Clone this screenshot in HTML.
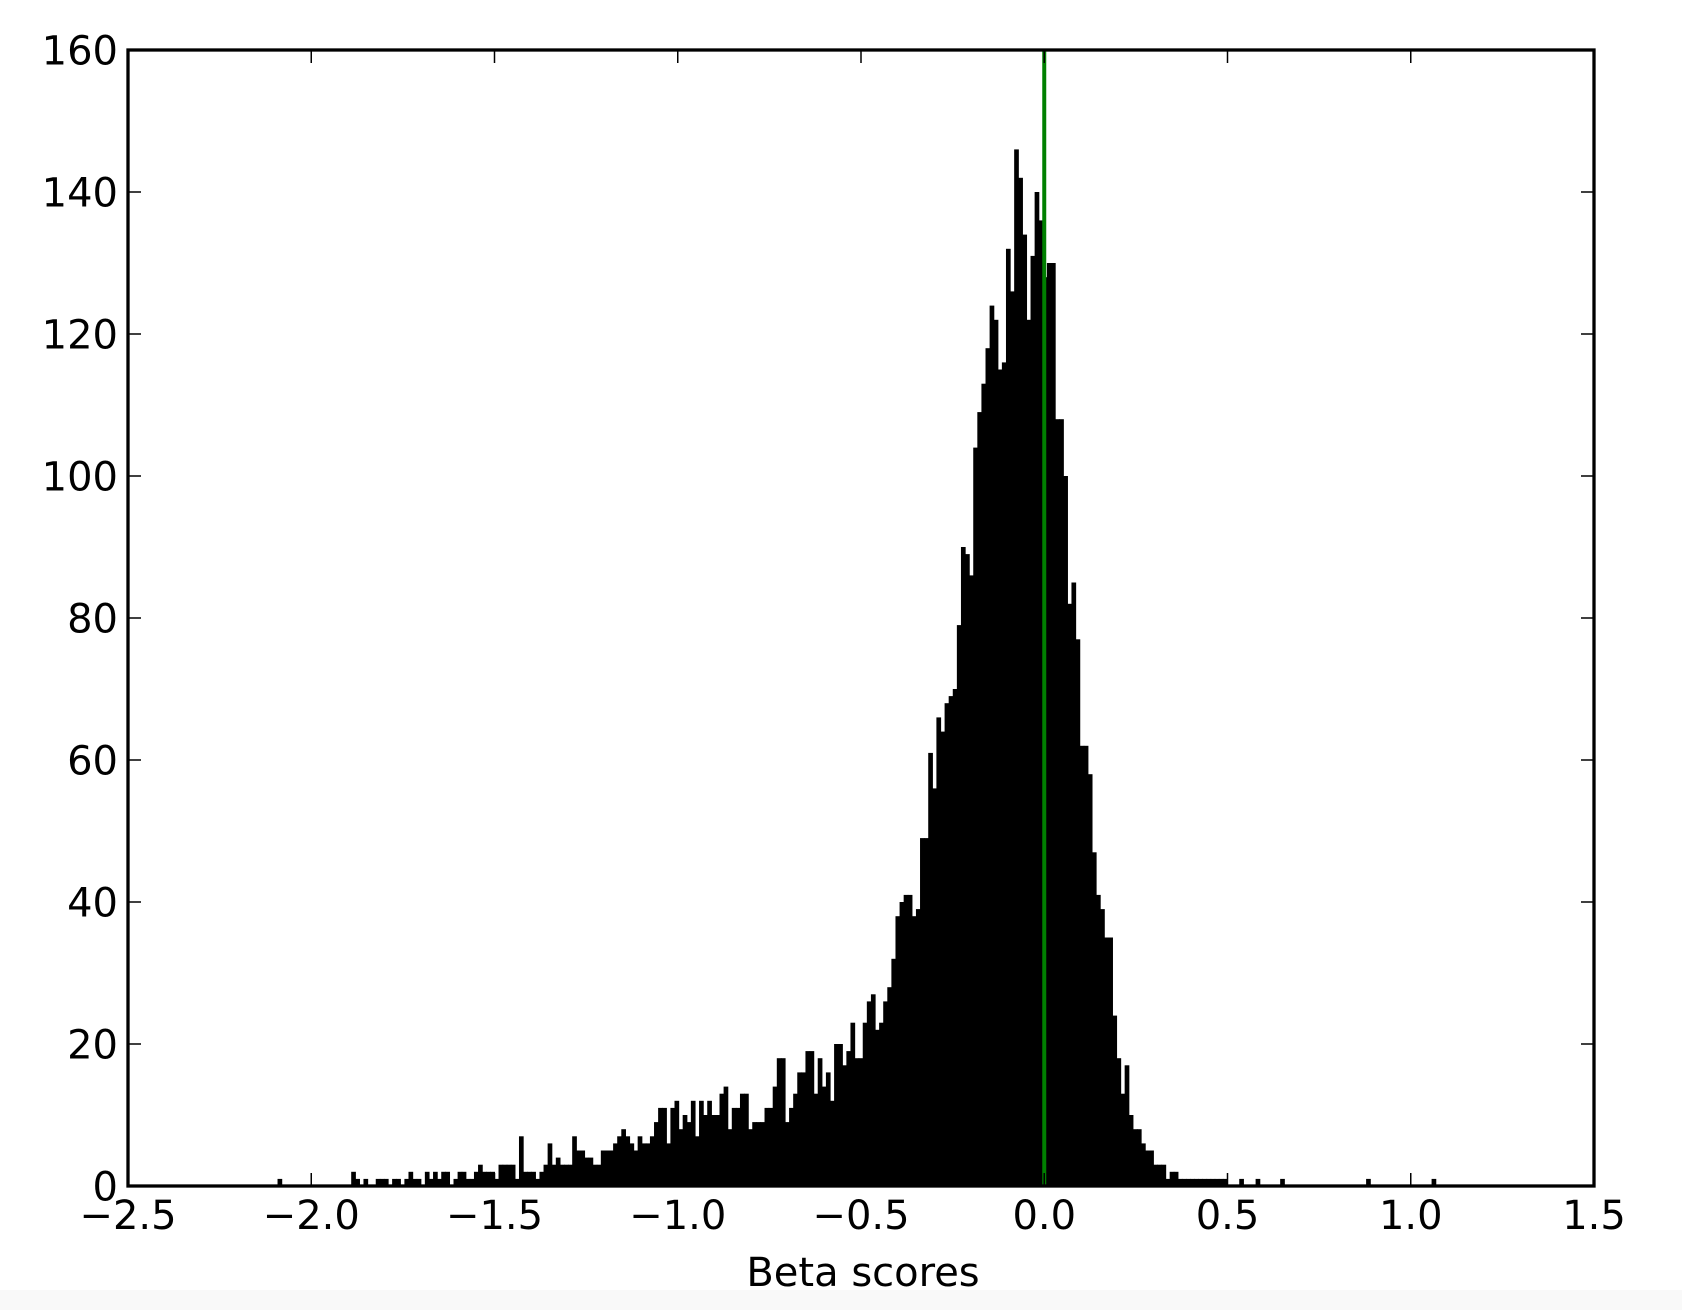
<!DOCTYPE html>
<html><head><meta charset="utf-8"><style>
html,body{margin:0;padding:0;background:#fff;}
svg{display:block;}
text{font-family:"DejaVu Sans","Liberation Sans",sans-serif;fill:#000;}
</style></head>
<body>
<svg id="chart" width="1682" height="1310" viewBox="0 0 1682 1310" xmlns="http://www.w3.org/2000/svg">
<rect x="0" y="1290" width="1682" height="20" fill="#f9f9f9"/>
<g id="bars"></g>
<g id="axes"></g>
<text x="863" y="1286" font-size="40" text-anchor="middle">Beta scores</text>
</svg>
<script>
const binStart = -2.092;
const binEnd = 1.068;
const counts = [
// left tail
1,0,0,0,0,0,0,0,0,0,0,0,0,0,0,0,0,0,2,1,0,1,0,0,1,1,1,0,1,1,0,1,2,1,1,0,2,1,2,1,
// -1.65 .. -0.93
2,2,0,1,2,2,1,1,2,3,2,2,2,1,3,3,3,3,1,7,2,2,2,1,2,3,6,3,4,3,3,3,7,5,5,4,4,3,3,5,5,5,6,7,8,7,6,5,7,6,6,7,9,11,11,6,11,12,8,10,9,12,7,12,10,
// -0.93 .. -0.35
12,10,10,13,14,8,11,11,13,13,8,9,9,9,11,11,14,18,18,9,11,13,16,16,19,19,13,18,14,16,12,20,20,17,19,23,18,18,23,26,27,22,23,26,28,32,38,40,41,41,38,39,
// -0.35 .. -0.25
49,49,61,56,66,64,68,69,70,
// peak
79,90,89,86,104,109,113,118,124,122,115,116,132,126,146,142,134,122,131,140,136,128,130,130,108,108,100,82,85,77,
// right shoulder
62,62,58,47,41,39,35,35,24,18,13,17,10,8,8,6,5,5,3,
// right tail
3,3,1,2,2,1,1,1,1,1,1,1,1,1,1,1,1,0,0,0,1,0,0,0,1,0,0,0,0,0,1,
0,0,0,0,0,0,0,0,0,0,0,0,0,0,0,0,0,0,0,0,1,0,0,0,0,0,0,0,0,0,0,0,0,0,0,0,1
];
const xTicks = [-2.5,-2.0,-1.5,-1.0,-0.5,0.0,0.5,1.0,1.5];
const xTickLabels = ["\u22122.5","\u22122.0","\u22121.5","\u22121.0","\u22120.5","0.0","0.5","1.0","1.5"];
const yTicks = [0,20,40,60,80,100,120,140,160];
const yTickLabels = ["0","20","40","60","80","100","120","140","160"];
const refLine = [0.0];

const L=128,R=1594,T=50,B=1186;
const xMin=-2.5,xMax=1.5,yMin=0,yMax=160;
function xs(v){return L+(v-xMin)/(xMax-xMin)*(R-L);}
function ys(v){return B-(v-yMin)/(yMax-yMin)*(B-T);}
const NS="http://www.w3.org/2000/svg";
const binW=(binEnd-binStart)/counts.length;
const barsG=document.getElementById('bars');
counts.forEach((c,i)=>{
  if(c<=0)return;
  const x0=xs(binStart+i*binW), x1=xs(binStart+(i+1)*binW);
  const r=document.createElementNS(NS,'rect');
  r.setAttribute('x',x0);
  r.setAttribute('y',ys(c));
  r.setAttribute('width',(x1-x0)+0.6);
  r.setAttribute('height',ys(0)-ys(c));
  r.setAttribute('fill','#000');
  
  
  barsG.appendChild(r);
});
const ax=document.getElementById('axes');
refLine.forEach(v=>{
  const l=document.createElementNS(NS,'line');
  l.setAttribute('x1',xs(v));l.setAttribute('x2',xs(v));
  l.setAttribute('y1',T);l.setAttribute('y2',B);
  l.setAttribute('stroke','#008000');l.setAttribute('stroke-width','4');
  
  
  ax.appendChild(l);
});
xTicks.forEach((v,i)=>{
  const x=xs(v);
  [[B,B-13],[T,T+13]].forEach(p=>{
    const t=document.createElementNS(NS,'line');
    t.setAttribute('x1',x);t.setAttribute('x2',x);t.setAttribute('y1',p[0]);t.setAttribute('y2',p[1]);
    t.setAttribute('stroke','#000');t.setAttribute('stroke-width','1.5');
    
    
    ax.appendChild(t);
  });
  const tx=document.createElementNS(NS,'text');
  tx.setAttribute('x',x);tx.setAttribute('y',1229);
  tx.setAttribute('font-size','40');tx.setAttribute('text-anchor','middle');
  tx.textContent=xTickLabels[i];
  
  
  ax.appendChild(tx);
});
yTicks.forEach((v,i)=>{
  const y=ys(v);
  [[L,L+13],[R,R-13]].forEach(p=>{
    const t=document.createElementNS(NS,'line');
    t.setAttribute('x1',p[0]);t.setAttribute('x2',p[1]);t.setAttribute('y1',y);t.setAttribute('y2',y);
    t.setAttribute('stroke','#000');t.setAttribute('stroke-width','1.5');
    
    
    ax.appendChild(t);
  });
  const tx=document.createElementNS(NS,'text');
  tx.setAttribute('x',118);tx.setAttribute('y',y+14.5);
  tx.setAttribute('font-size','40');tx.setAttribute('text-anchor','end');
  tx.textContent=yTickLabels[i];
  
  
  ax.appendChild(tx);
});
const fr=document.createElementNS(NS,'rect');
fr.setAttribute('x',L);fr.setAttribute('y',T);fr.setAttribute('width',R-L);fr.setAttribute('height',B-T);
fr.setAttribute('fill','none');fr.setAttribute('stroke','#000');fr.setAttribute('stroke-width','3.3');


ax.appendChild(fr);
</script>
</body></html>
